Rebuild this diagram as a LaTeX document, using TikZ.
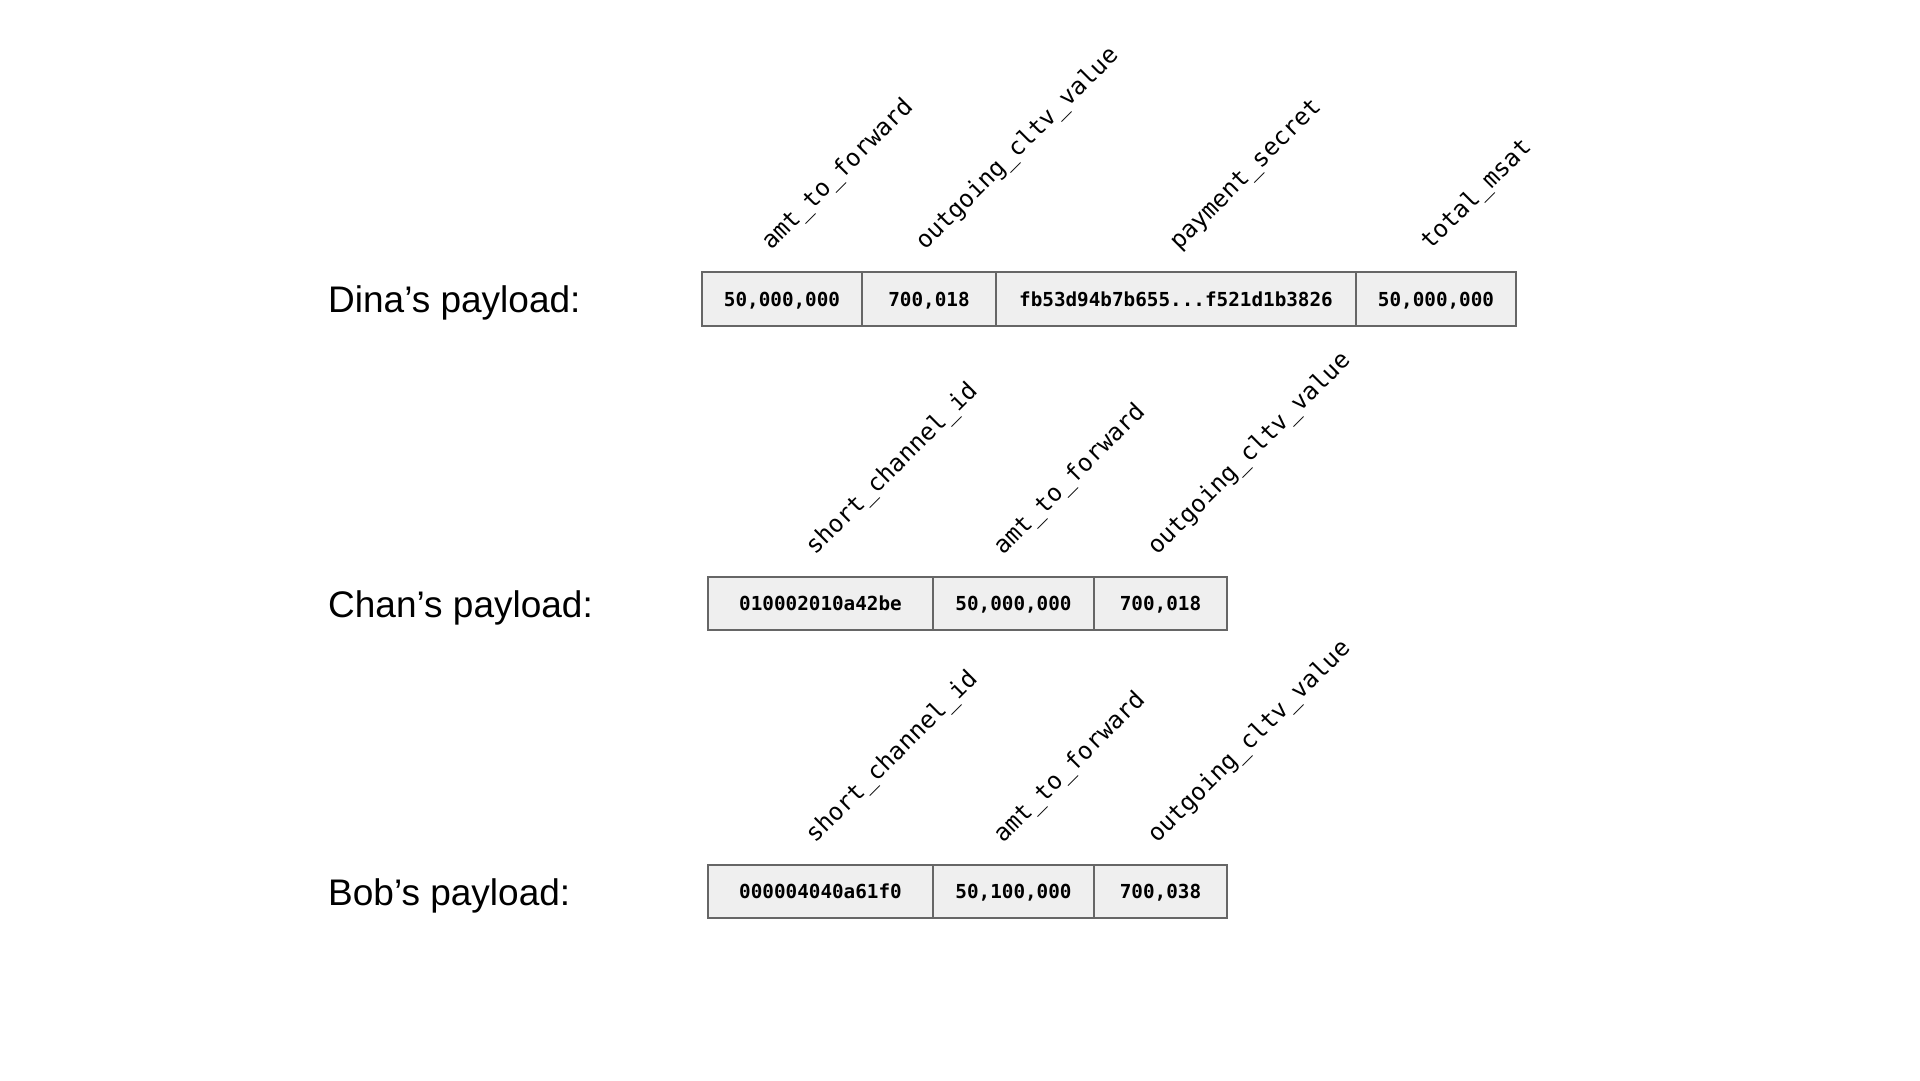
\documentclass[tikz,border=0pt]{standalone}
\usepackage{fontspec}
\setmainfont{Liberation Sans}
\newfontfamily\monofont{DejaVu Sans Mono}
\definecolor{cellfill}{HTML}{EFEFEF}
\definecolor{cellborder}{HTML}{666666}
\begin{document}
\begin{tikzpicture}[x=1pt,y=-1pt,
  cell/.style={draw=cellborder, fill=cellfill, line width=1.6pt, minimum height=54pt,
    inner sep=0pt, text height=14pt, text depth=0pt,
    font=\monofont\bfseries\fontsize{19.3}{20}\selectfont},
  field/.style={rotate=45, anchor=base west, inner sep=0pt,
    font=\monofont\fontsize{24}{25}\selectfont},
  rowlabel/.style={anchor=base west, inner sep=0pt, font=\fontsize{37}{40}\selectfont}]
\useasboundingbox (0,0) rectangle (1920,1080);

% Dina
\node[rowlabel] (dinalabel) at (328,312) {Dina’s payload:};
\node[cell, minimum width=160pt] (d1) at (782,299) {50,000,000};
\node[cell, minimum width=134pt] (d2) at (929,299) {700,018};
\node[cell, minimum width=360pt] (d3) at (1176,299) {fb53d94b7b655...f521d1b3826};
\node[cell, minimum width=160pt] (d4) at (1436,299) {50,000,000};
\node[field] (df1) at (771,251) {amt\_to\_forward};
\node[field] (df2) at (925,251) {outgoing\_cltv\_value};
\node[field] (df3) at (1179,251) {payment\_secret};
\node[field] (df4) at (1430,251) {total\_msat};

% Chan
\node[rowlabel] (chanlabel) at (328,617) {Chan’s payload:};
\node[cell, minimum width=225pt, minimum height=53pt] (c1) at (820.5,603.5) {010002010a42be};
\node[cell, minimum width=161pt, minimum height=53pt] (c2) at (1013.5,603.5) {50,000,000};
\node[cell, minimum width=133pt, minimum height=53pt] (c3) at (1160.5,603.5) {700,018};
\node[field] (cf1) at (815,556) {short\_channel\_id};
\node[field] (cf2) at (1003,556) {amt\_to\_forward};
\node[field] (cf3) at (1157,556) {outgoing\_cltv\_value};

% Bob
\node[rowlabel] (boblabel) at (328,905) {Bob’s payload:};
\node[cell, minimum width=225pt, minimum height=53pt] (b1) at (820.5,891.5) {000004040a61f0};
\node[cell, minimum width=161pt, minimum height=53pt] (b2) at (1013.5,891.5) {50,100,000};
\node[cell, minimum width=133pt, minimum height=53pt] (b3) at (1160.5,891.5) {700,038};
\node[field] (bf1) at (815,844) {short\_channel\_id};
\node[field] (bf2) at (1003,844) {amt\_to\_forward};
\node[field] (bf3) at (1157,844) {outgoing\_cltv\_value};
\end{tikzpicture}
\end{document}
